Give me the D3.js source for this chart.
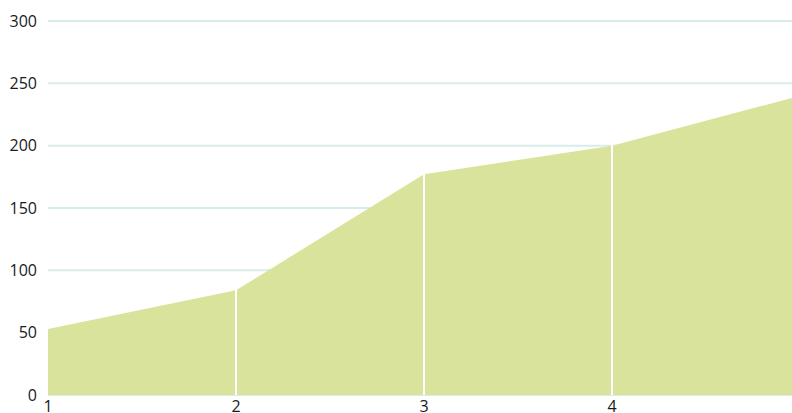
<!DOCTYPE html>
<html>
<head>
<meta charset="utf-8">
<script src="https://cdn.jsdelivr.net/npm/d3@7"></script>
<style>
  body { margin: 0; background: #fff; }
  svg { display: block; }
</style>
</head>
<body>
<script>
var w = 792;
var h = 413;

// data
var xs = [1, 2, 3, 4, 5];
var values = [53, 84, 177, 200, 240];
var yTicks = [0, 50, 100, 150, 200, 250, 300];
var xTicks = [1, 2, 3, 4];

var x = d3.scaleLinear().domain([1, 5]).range([48, 800]);
var y = d3.scaleLinear().domain([0, 300]).range([395, 21]);

var svg = d3.select("body")
    .append("svg")
    .attr("width", w)
    .attr("height", h);

svg.append("clipPath")
    .attr("id", "plot")
    .append("rect")
    .attr("x", 48)
    .attr("y", 0)
    .attr("width", w - 48)
    .attr("height", h);

// grid lines
svg.append("g")
    .selectAll("line")
    .data(yTicks)
    .enter()
    .append("line")
    .attr("x1", 48)
    .attr("x2", w)
    .attr("y1", function(d) { return y(d); })
    .attr("y2", function(d) { return y(d); })
    .attr("stroke", "#d8eceb")
    .attr("stroke-width", 2);

var pts = xs.map(function(d, i) { return [d, values[i]]; });

var area = d3.area()
    .x(function(d) { return x(d[0]); })
    .y0(y(0))
    .y1(function(d) { return y(d[1]); });

var g = svg.append("g").attr("clip-path", "url(#plot)");

g.append("path")
    .datum(pts)
    .attr("d", area)
    .attr("fill", "#d9e39b");

// white separators between segments
g.selectAll("line.sep")
    .data(pts.slice(1, 4))
    .enter()
    .append("line")
    .attr("class", "sep")
    .attr("x1", function(d) { return x(d[0]); })
    .attr("x2", function(d) { return x(d[0]); })
    .attr("y1", function(d) { return y(d[1]) - 1; })
    .attr("y2", y(0))
    .attr("stroke", "#ffffff")
    .attr("stroke-width", 2);

// y labels
svg.append("g")
    .selectAll("text")
    .data(yTicks)
    .enter()
    .append("text")
    .text(function(d) { return d; })
    .attr("x", 37)
    .attr("y", function(d) { return y(d); })
    .attr("dy", "0.36em")
    .attr("text-anchor", "end")
    .attr("font-size", 16)
    .attr("font-family", "Open Sans, sans-serif")
    .attr("fill", "#1a1a1a");

// x labels
svg.append("g")
    .selectAll("text")
    .data(xTicks)
    .enter()
    .append("text")
    .text(function(d) { return d; })
    .attr("x", function(d) { return x(d); })
    .attr("y", 412)
    .attr("text-anchor", "middle")
    .attr("font-size", 16)
    .attr("font-family", "Open Sans, sans-serif")
    .attr("fill", "#1a1a1a");
</script>
</body>
</html>
